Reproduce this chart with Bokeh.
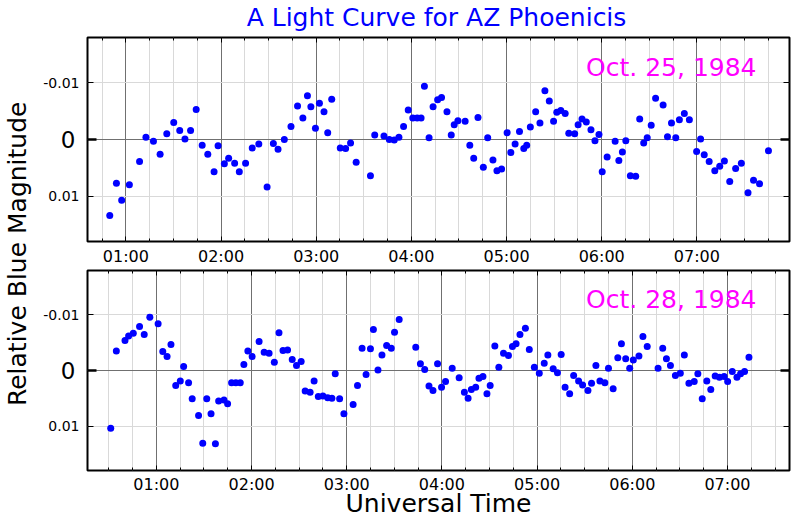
import numpy as np
from bokeh.plotting import figure
from bokeh.layouts import row, column
from bokeh.models import Range1d, FixedTicker, LinearAxis, Label, Grid
from bokeh.embed import file_html
from bokeh.resources import INLINE

FONT = "DejaVu Sans"

# ---------------- data (hours UT, relative blue magnitude) ----------------
t25 = [0.831, 0.901, 0.956, 1.037, 1.144, 1.211, 1.290, 1.360, 1.430, 1.503,
       1.566, 1.621, 1.680, 1.739, 1.802, 1.861, 1.927, 1.969, 2.035, 2.080,
       2.143, 2.192, 2.258, 2.328, 2.397, 2.484, 2.550, 2.599, 2.665, 2.735,
       2.804, 2.860, 2.908, 2.944, 2.992, 3.034, 3.082, 3.121, 3.163, 3.253,
       3.309, 3.361, 3.420, 3.570, 3.615, 3.712, 3.768, 3.820, 3.869, 3.918,
       3.967, 4.015, 4.061, 4.102, 4.137, 4.186, 4.228, 4.276, 4.317, 4.374,
       4.419, 4.450, 4.489, 4.565, 4.614, 4.655, 4.700, 4.756, 4.802, 4.857,
       4.899, 4.948, 5.006, 5.045, 5.090, 5.136, 5.181, 5.212, 5.250, 5.306,
       5.351, 5.403, 5.449, 5.494, 5.528, 5.570, 5.616, 5.654, 5.716, 5.752,
       5.793, 5.838, 5.887, 5.929, 5.971, 6.005, 6.057, 6.141, 6.180, 6.217,
       6.253, 6.301, 6.357, 6.399, 6.441, 6.478, 6.520, 6.566, 6.645, 6.691,
       6.733, 6.778, 6.816, 6.868, 6.921, 6.997, 7.039, 7.077, 7.129, 7.188,
       7.240, 7.289, 7.345, 7.407, 7.467, 7.537, 7.595, 7.658, 7.752]
m25 = [0.0134, 0.0077, 0.0107, 0.0080, 0.0039, -0.0004, 0.0003, 0.0026, -0.0010, -0.0030,
       -0.0016, -0.0001, -0.0016, -0.0053, 0.0010, 0.0026, 0.0057, 0.0011, 0.0043, 0.0033,
       0.0042, 0.0057, 0.0042, 0.0015, 0.0008, 0.0084, 0.0007, 0.0017, 0.0000, -0.0023,
       -0.0059, -0.0038, -0.0077, -0.0058, -0.0020, -0.0064, -0.0049, -0.0012, -0.0071, 0.0015,
       0.0016, 0.0006, 0.0040, 0.0064, -0.0008, -0.0006, 0.0000, 0.0001, -0.0004, -0.0023,
       -0.0052, -0.0038, -0.0038, -0.0038, -0.0094, -0.0003, -0.0058, -0.0070, -0.0074, -0.0049,
       -0.0008, -0.0026, -0.0033, -0.0032, 0.0010, 0.0033, -0.0039, 0.0049, -0.0003, 0.0036,
       0.0055, 0.0052, -0.0012, 0.0023, 0.0008, -0.0014, 0.0016, 0.0010, -0.0022, -0.0049,
       -0.0029, -0.0086, -0.0068, -0.0032, -0.0048, -0.0051, -0.0046, -0.0011, -0.0010, -0.0026,
       -0.0036, -0.0031, -0.0017, 0.0002, -0.0009, 0.0057, 0.0031, 0.0003, 0.0037, 0.0022,
       0.0002, 0.0064, 0.0065, -0.0036, 0.0006, -0.0003, -0.0025, -0.0073, -0.0061, -0.0005,
       -0.0029, -0.0003, -0.0035, -0.0046, -0.0035, 0.0021, -0.0001, 0.0027, 0.0039, 0.0055,
       0.0047, 0.0038, 0.0074, 0.0051, 0.0042, 0.0094, 0.0072, 0.0078, 0.0020]

t28 = [0.520, 0.579, 0.670, 0.708, 0.757, 0.823, 0.872, 0.931, 1.018, 1.067,
       1.112, 1.153, 1.203, 1.251, 1.286, 1.338, 1.376, 1.443, 1.487, 1.529,
       1.574, 1.620, 1.654, 1.710, 1.748, 1.790, 1.835, 1.881, 1.919, 1.961,
       2.006, 2.079, 2.132, 2.184, 2.239, 2.288, 2.330, 2.378, 2.427, 2.472,
       2.521, 2.563, 2.615, 2.657, 2.701, 2.750, 2.800, 2.844, 2.879, 2.925,
       2.970, 3.067, 3.113, 3.161, 3.203, 3.249, 3.280, 3.328, 3.370, 3.419,
       3.468, 3.502, 3.551, 3.725, 3.774, 3.819, 3.864, 3.906, 3.954, 3.996,
       4.038, 4.108, 4.181, 4.236, 4.275, 4.309, 4.355, 4.389, 4.431, 4.473,
       4.507, 4.556, 4.598, 4.647, 4.699, 4.741, 4.779, 4.820, 4.877, 4.918,
       4.971, 5.023, 5.075, 5.113, 5.169, 5.214, 5.253, 5.294, 5.342, 5.384,
       5.436, 5.478, 5.534, 5.572, 5.618, 5.660, 5.712, 5.750, 5.799, 5.848,
       5.886, 5.931, 5.973, 6.011, 6.070, 6.112, 6.157, 6.271, 6.320, 6.359,
       6.401, 6.453, 6.505, 6.547, 6.595, 6.651, 6.689, 6.735, 6.783, 6.825,
       6.871, 6.916, 6.965, 7.002, 7.051, 7.100, 7.138, 7.180, 7.226]
m28 = [0.0104, -0.0035, -0.0054, -0.0062, -0.0067, -0.0079, -0.0065, -0.0096, -0.0084, -0.0034,
       -0.0025, -0.0047, 0.0027, 0.0019, -0.0007, 0.0022, 0.0051, 0.0081, 0.0131, 0.0051,
       0.0078, 0.0132, 0.0055, 0.0053, 0.0060, 0.0022, 0.0022, 0.0022, -0.0011, -0.0035,
       -0.0025, -0.0052, -0.0033, -0.0031, -0.0015, -0.0068, -0.0036, -0.0037, -0.0020, -0.0009,
       -0.0016, 0.0037, 0.0039, 0.0019, 0.0047, 0.0046, 0.0049, 0.0050, 0.0006, 0.0051,
       0.0078, 0.0061, 0.0027, -0.0040, 0.0007, -0.0039, -0.0074, -0.0001, -0.0028, -0.0045,
       -0.0040, -0.0069, -0.0092, -0.0042, -0.0012, -0.0002, 0.0028, 0.0036, -0.0012, 0.0030,
       0.0020, -0.0004, 0.0013, 0.0039, 0.0050, 0.0034, 0.0030, 0.0014, 0.0011, 0.0042,
       0.0027, -0.0044, -0.0006, -0.0031, -0.0027, -0.0043, -0.0048, -0.0065, -0.0076, -0.0038,
       -0.0006, 0.0005, -0.0013, -0.0028, -0.0003, 0.0004, -0.0029, 0.0030, 0.0042, 0.0009,
       0.0019, 0.0026, 0.0036, 0.0023, -0.0009, 0.0019, 0.0022, -0.0004, 0.0033, -0.0023,
       -0.0048, -0.0021, -0.0004, -0.0019, -0.0026, -0.0061, -0.0043, -0.0004, -0.0040, -0.0021,
       -0.0009, 0.0009, 0.0005, -0.0028, 0.0023, 0.0020, 0.0006, 0.0051, 0.0019, 0.0034,
       0.0010, 0.0012, 0.0011, 0.0020, 0.0002, 0.0012, 0.0006, 0.0002, -0.0024]

hour_ticks = [1, 2, 3, 4, 5, 6, 7]
hour_labels = ["01:00", "02:00", "03:00", "04:00", "05:00", "06:00", "07:00"]
mag_ticks = [-0.01, 0.01]
mag_labels = ["-0.01", "0.01"]
zero_tick = [0]
zero_label = "0"

title_text = "A Light Curve for AZ Phoenicis"
y_title = "Relative Blue Magnitude"
x_title = "Universal Time"
date25 = "Oct. 25, 1984"
date28 = "Oct. 28, 1984"

# ---------------- layout constants ----------------
YLIM = 0.018
FRAME_H = 205
FRAME_W = 706
PPU = FRAME_H / (2 * YLIM)
SPAN_H = 7.376
LEFT_W = 40
PANEL_W = 760
TOTAL_W = LEFT_W + PANEL_W
TITLE_H = 35
H1 = 233
H2 = 252
BASE_FIX = 8.7   # label anchor correction (px) for 25px text


def text_fig(width, height):
    f = figure(width=width, height=height,
               x_range=Range1d(0, width), y_range=Range1d(0, height),
               output_backend="svg", toolbar_location=None,
               x_axis_type=None, y_axis_type=None, min_border=0)
    f.outline_line_color = None
    f.background_fill_color = "white"
    f.border_fill_color = "white"
    return f


def tick_axis(ticker, tin_major, tin_minor, w_major=1, w_minor=1):
    ax = LinearAxis(ticker=ticker)
    ax.axis_line_color = None
    ax.major_tick_in = tin_major
    ax.major_tick_out = 0
    ax.minor_tick_in = tin_minor
    ax.minor_tick_out = 0
    ax.major_tick_line_width = w_major
    ax.minor_tick_line_width = w_minor
    ax.major_tick_line_color = "black"
    ax.minor_tick_line_color = "black"
    ax.major_label_standoff = 0
    ax.major_label_text_font = FONT
    ax.major_label_text_color = "black"
    return ax


def make_panel(t, m, x0, height, mb_bottom, date, date_px, label_standoff):
    x1 = x0 + SPAN_H
    p = figure(width=PANEL_W, height=height,
               x_range=Range1d(x0, x1), y_range=Range1d(YLIM, -YLIM),
               output_backend="svg", toolbar_location=None,
               x_axis_type=None, y_axis_type=None,
               min_border_left=43, min_border_right=PANEL_W - 43 - FRAME_W,
               min_border_top=2, min_border_bottom=mb_bottom)
    p.outline_line_color = "black"
    p.outline_line_width = 2
    p.background_fill_color = "white"
    p.border_fill_color = "white"

    quarters = [float(q) for q in np.arange(np.ceil(x0 * 4) / 4, x1, 0.25)]
    minors = [q for q in quarters if abs(q - round(q)) > 1e-9]
    xticker = FixedTicker(ticks=hour_ticks, minor_ticks=minors)
    zticker = FixedTicker(ticks=zero_tick, minor_ticks=mag_ticks)

    p.add_layout(Grid(dimension=0, ticker=xticker, grid_line_color="#707070",
                      minor_grid_line_color="#d9d9d9"))
    p.add_layout(Grid(dimension=1, ticker=zticker, grid_line_color="#707070",
                      minor_grid_line_color="#d9d9d9"))

    # bottom axis with hour labels
    bx = tick_axis(xticker, 5, 3)
    bx.major_label_overrides = {h: s for h, s in zip(hour_ticks, hour_labels)}
    bx.major_label_text_font_size = "16px"
    bx.major_label_standoff = label_standoff
    p.add_layout(bx, "below")

    # top ticks (no labels)
    p.add_layout(tick_axis(FixedTicker(ticks=[], minor_ticks=quarters), 0, 3), "above")
    p.add_layout(tick_axis(FixedTicker(ticks=[], minor_ticks=hour_ticks), 0, 5), "above")

    # left: bold zero tick with big label nearest the frame, then the +-0.01 labels
    la = tick_axis(zticker, 9, 6, w_major=2.5, w_minor=1)
    la.major_label_overrides = {0: zero_label}
    la.major_label_text_font_size = "23px"
    la.major_label_standoff = 12
    p.add_layout(la, "left")
    lb = tick_axis(FixedTicker(ticks=mag_ticks, minor_ticks=[]), 0, 0)
    lb.major_tick_line_color = None
    lb.minor_tick_line_color = None
    lb.major_label_overrides = {v: s for v, s in zip(mag_ticks, mag_labels)}
    lb.major_label_text_font_size = "14px"
    lb.major_label_standoff = -22
    p.add_layout(lb, "left")

    # right ticks (no labels)
    p.add_layout(tick_axis(FixedTicker(ticks=[], minor_ticks=zero_tick), 0, 9, w_minor=2.5), "right")
    p.add_layout(tick_axis(FixedTicker(ticks=[], minor_ticks=mag_ticks), 0, 6), "right")

    p.scatter(t, m, size=7, fill_color="#0000ff", line_color=None)

    p.add_layout(Label(x=x1, y=-(date_px + BASE_FIX) / PPU, x_offset=-33, text=date,
                       text_align="right", text_baseline="alphabetic",
                       text_font=FONT, text_font_size="25px", text_color="#ff00ff"))
    return p, bx


p1, _ = make_panel(t25, m25, 0.597, H1, H1 - 2 - FRAME_H, date25, 64, 5)
p2, bx2 = make_panel(t28, m28, 0.276, H2, H2 - 2 - FRAME_H, date28, 64.4, 4)
bx2.axis_label = x_title
bx2.axis_label_text_font = FONT
bx2.axis_label_text_font_size = "25px"
bx2.axis_label_text_font_style = "normal"
bx2.axis_label_text_color = "black"
bx2.axis_label_text_line_height = 1.0
bx2.axis_label_standoff = -8

tfig = text_fig(TOTAL_W, TITLE_H)
tfig.add_layout(Label(x=LEFT_W + 43 + FRAME_W / 2, y=TITLE_H - 26 + BASE_FIX, text=title_text,
                      text_align="center", text_baseline="alphabetic",
                      text_font=FONT, text_font_size="25px", text_color="#0000ff"))

lf_h = H1 + H2
lf = text_fig(LEFT_W, lf_h)
lf.add_layout(Label(x=25.5 - BASE_FIX, y=lf_h - (253.3 - TITLE_H), text=y_title,
                    angle=90, angle_units="deg",
                    text_align="center", text_baseline="alphabetic",
                    text_font=FONT, text_font_size="25px", text_color="black"))

layout = column(tfig, row(lf, column(p1, p2)))
open("out.html", "w").write(file_html(layout, INLINE))
